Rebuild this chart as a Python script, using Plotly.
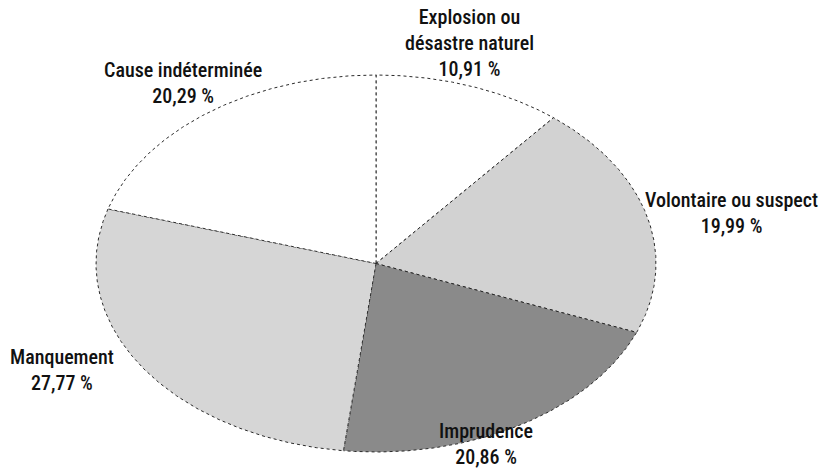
import numpy as np
import plotly.graph_objects as go

# ---- data (clockwise from 12 o'clock) ----
categories = ["Explosion ou<br>désastre naturel", "Volontaire ou suspect", "Imprudence",
              "Manquement", "Cause indéterminée"]
values = [10.91, 19.99, 20.86, 27.77, 20.29]
value_labels = ["10,91 %", "19,99 %", "20,86 %", "27,77 %", "20,29 %"]

# ---- styles / layout ----
W, H = 825, 470
CX, CY, RX, RY = 376, 263.5, 280, 188.5
fills = ["#ffffff", "#d2d2d2", "#8a8a8a", "#d6d6d6", "#ffffff"]
label_pos = [(469, 43), (731, 213), (486, 444), (62, 370), (183, 83)]
FONT = "Liberation Sans Narrow, Roboto Condensed, DejaVu Sans Condensed, Arial Narrow, sans-serif"

fig = go.Figure()
total = sum(values)
cum = 0.0
for i, v in enumerate(values):
    t0 = cum / total * 2 * np.pi
    cum += v
    t1 = cum / total * 2 * np.pi
    th = np.linspace(t0, t1, 200)
    xs = np.concatenate([[CX], CX + RX * np.sin(th), [CX]])
    ys = np.concatenate([[CY], CY - RY * np.cos(th), [CY]])
    fig.add_trace(go.Scatter(
        x=xs, y=ys, mode="lines", fill="toself", fillcolor=fills[i],
        line=dict(color="#2a2a2a", width=1, dash="dot"),
        hoverinfo="skip", showlegend=False))

for i, (cat, lab) in enumerate(zip(categories, value_labels)):
    x, y = label_pos[i]
    fig.add_annotation(x=x, y=y, text=f"{cat}<br>{lab}", showarrow=False,
                       xanchor="center", yanchor="middle", align="center",
                       font=dict(family=FONT, size=20, color="#111111", weight=500))

fig.update_xaxes(range=[0, W], visible=False, fixedrange=True)
fig.update_yaxes(range=[H, 0], visible=False, fixedrange=True)
fig.update_layout(width=W, height=H, margin=dict(l=0, r=0, t=0, b=0),
                  paper_bgcolor="white", plot_bgcolor="white")

fig.write_html("out.html", config={"displayModeBar": False},
               post_script="document.body.style.margin='0';document.body.style.overflow='hidden';")
